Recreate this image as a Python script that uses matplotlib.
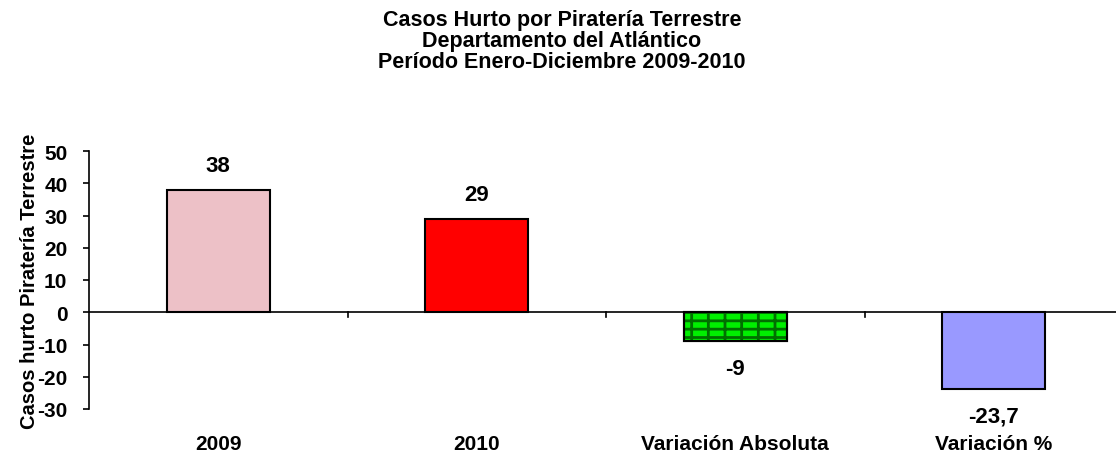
import matplotlib
matplotlib.use("Agg")
import matplotlib.pyplot as plt

categories = ["2009", "2010", "Variación Absoluta", "Variación %"]
values = [38, 29, -9, -23.7]
value_labels = ["38", "29", "-9", "-23,7"]
colors = ["#EDC1C7", "#FF0000", "#00F000", "#9999FF"]
yticks = [-30, -20, -10, 0, 10, 20, 30, 40, 50]

plt.rcParams['font.family'] = ['Liberation Sans', 'DejaVu Sans']
plt.rcParams['hatch.linewidth'] = 2.0

W, H = 1116, 460
fig = plt.figure(figsize=(W / 100, H / 100), dpi=100)
left = 89 / W
cat_w = 258.5
ax = fig.add_axes([left, (H - 410) / H, 4 * cat_w / W, 258 / H])

x = list(range(len(categories)))
bw = 0.40
bars = ax.bar(x, values, width=bw, color=colors, edgecolor="black", linewidth=1.5, zorder=3)
# textured grid on Variación Absoluta
ax.bar([x[2]], [values[2]], width=bw, color="none", edgecolor="#007000",
       hatch="|--", linewidth=0, zorder=4)
ax.bar([x[2]], [values[2]], width=bw, color="none", edgecolor="black",
       linewidth=1.5, zorder=5)

for xi, v, lab in zip(x, values, value_labels):
    if v >= 0:
        ax.annotate(lab, (xi, v), xytext=(0, 10), textcoords="offset points",
                    ha="center", va="bottom", fontsize=16, fontweight="bold")
    else:
        ax.annotate(lab, (xi, v), xytext=(0, -12), textcoords="offset points",
                    ha="center", va="top", fontsize=16, fontweight="bold")

ax.set_xlim(-0.5, len(categories) - 0.5)
ax.set_ylim(-30, 50)
ax.set_yticks(yticks)
ax.set_yticklabels([str(t) for t in yticks], fontsize=15, fontweight="bold")
ax.tick_params(axis="y", direction="out", length=4.5, width=1.2, pad=11)

for s in ["top", "right", "bottom"]:
    ax.spines[s].set_visible(False)
ax.spines["left"].set_linewidth(1.2)

# zero line with category separators
ax.axhline(0, color="black", linewidth=1.2, zorder=2)
ax.set_xticks(x)
ax.set_xticklabels(categories, fontsize=15, fontweight="bold")
ax.tick_params(axis="x", length=0, pad=18)
for b in [0.5, 1.5, 2.5]:
    ax.plot([b, b], [0, -1.5], color="black", linewidth=1.2, zorder=2)

ax.set_ylabel("Casos hurto Piratería Terrestre", fontsize=14.5, fontweight="bold")
ax.yaxis.set_label_coords(-50 / (4 * cat_w), 0.5)

for yy, t in [(26, "Casos Hurto por Piratería Terrestre"),
              (47, "Departamento del Atlántico"),
              (68, "Período Enero-Diciembre 2009-2010")]:
    fig.text(562 / W, 1 - yy / H, t, ha="center", va="baseline",
             fontsize=15.5, fontweight="bold")

fig.savefig("out.png", dpi=100, facecolor="white")
